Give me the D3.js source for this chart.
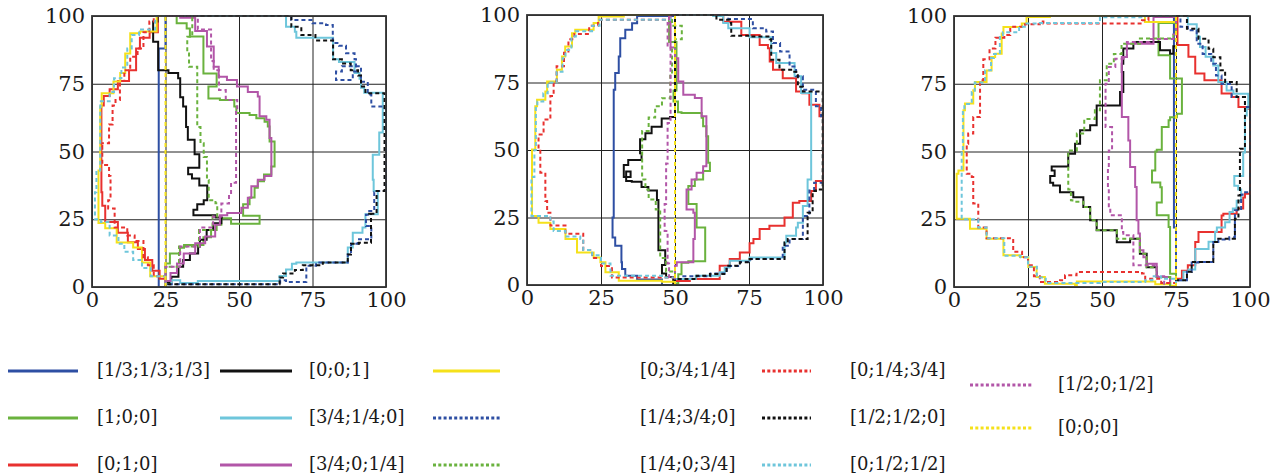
<!DOCTYPE html>
<html>
<head>
<meta charset="utf-8">
<script src="https://cdn.jsdelivr.net/npm/d3@7"></script>
<style>
  body { margin: 0; background: #fff; }
  svg { display: block; }
</style>
</head>
<body>
<script>
// legend labels, in legend order (column by column)
const seriesNames = ['[1/3;1/3;1/3]', '[1;0;0]', '[0;1;0]',
                     '[0;0;1]', '[3/4;1/4;0]', '[3/4;0;1/4]',
                     '[0;3/4;1/4]', '[1/4;3/4;0]', '[1/4;0;3/4]',
                     '[0;1/4;3/4]', '[1/2;1/2;0]', '[0;1/2;1/2]',
                     '[1/2;0;1/2]', '[0;0;0]']

const tickValues = [0, 25, 50, 75, 100]

// boundary traces, one list per series (same order as seriesNames)
const panelA = [
  [[25,0],[22.7,3],[22.7,88],[25,88],[25,100]],
  [[25,100],[28.8,100],[28.8,97.3],[32.2,95.4],[33.3,92.4],[37.9,89.9],[37.9,78.8],[42.4,78.2],[42.4,74],[39.6,74],[39.6,69.6],[43.5,69],[48.4,66.6],[49.1,64.2],[53.6,63.5],[55.9,62.3],[58.7,61],[59.8,59.2],[60.4,53.7],[62.1,44.5],[61,41.5],[58.5,39],[56.4,36.6],[55.3,33],[53.6,30.5],[51.4,26.3],[57,26],[57,23.3],[49.2,23.3],[47.3,25.4],[44,23],[42.4,21],[40.5,18.4],[37.9,15.5],[31.3,14.5],[29.9,12.4],[26.5,8.7],[25,7.6],[25,0]],
  [[25,100],[22.4,99.5],[22.4,94],[19.6,92],[16.3,88],[15,80],[12.6,76],[8.8,73],[6,70.5],[4,67],[3.2,35],[3.5,30],[4.5,24],[8.8,20],[12.2,16.5],[15.6,14],[18,10],[20.5,6],[23,3],[25,0]],
  [[25,100],[23,100],[22.3,98],[20.8,90.5],[22.5,80],[26,79],[29.3,77],[30,70],[31,66.6],[32,64],[32,59],[32.6,54.3],[34.9,53],[34.9,49],[36.5,47],[36.5,44],[32.7,41.6],[34,40],[36.5,37.5],[39.2,36.2],[39.2,32],[38,30.5],[35.8,28.5],[34.5,26.5],[42,25.6],[44.5,25.6],[44,23.5],[41.2,21],[39,17.4],[36.7,14.9],[36.1,12.4],[33.3,10],[31,7.5],[29.4,3.8],[27,1.5],[25,0]],
  [[25,100],[62.7,100],[66,97.5],[66,96],[69,94.2],[69.5,92],[80,92],[82,84],[84,83],[89.3,79],[91,76.8],[91.5,73.5],[92.6,71.7],[98.9,71],[98.9,57],[97.7,57],[97.7,48.8],[95.5,48.8],[95.5,39.6],[95.8,35.4],[97.2,35.4],[97.2,26.8],[94.3,26.8],[93,22],[92,20],[88.7,18],[88.7,14.6],[87,9],[69.5,8.6],[68,6.5],[66,4.1],[63.8,2.2],[36,1.5],[30,2.5],[27,1],[25,0]],
  [[25,100],[30,100],[30,99.4],[35.1,94.5],[39.1,88.7],[41.4,81.3],[43.1,77.6],[45.9,76.4],[49.3,74],[53,72],[56.4,70.3],[57,63],[59.3,61.7],[60.4,55],[61,41],[58.7,39.6],[56.4,37.2],[54.2,32.9],[53,29.2],[50.8,27.3],[46,26.5],[43.5,23],[41.9,18.6],[38.5,16.1],[35.1,12.4],[31.2,8.7],[28.9,5.2],[26.7,2.2],[25,0]],
  [[25,100],[22,99.8],[22,94.3],[16.3,93.6],[13,86.2],[11.3,79],[9.6,75.8],[7.3,71.5],[3.3,66.5],[2.8,43],[2.2,26],[2.2,23.6],[4.5,21.7],[8.4,16.4],[14,14.6],[17,11.5],[17,9],[19.8,4],[25,0]],
  [[25,100],[62,100],[67.8,98.5],[75,97.3],[79.6,96.7],[81.9,93.6],[81.9,90],[84,89],[86.4,86.3],[89.3,84],[89.8,79.5],[88.7,76.4],[84.2,76.4],[83,79.5],[85,81.5],[91.5,75.7],[93.8,71],[95,66.6],[98.9,66],[100,61.6],[100,35.4],[96.6,35],[96,28],[93.8,26.7],[93.2,22.5],[95,17.6],[90.4,16],[88.1,12],[87,9],[76.2,7.8],[72.9,5.4],[72.9,1.8],[66,2.5],[64,1],[25,0.5]],
  [[25,100],[31,100],[34.1,92.3],[32.4,86.2],[33,81.3],[35.8,78.8],[35.8,59],[36.9,53],[38,48],[39.1,39.5],[39.7,32],[42,30.9],[42.6,26],[41,21],[36.4,14.9],[29.6,7.5],[25,0]],
  [[25,100],[21,98],[19.5,94],[17.5,88],[15.5,85],[13,80],[11,76],[9.5,69],[8,67],[7,60],[5.8,53],[3,52],[3.5,45],[5.8,41],[6.3,32],[5.5,29],[7.7,25.5],[7.7,22],[12,19],[14.5,17],[17.5,15],[17.5,11],[19,8],[21,4],[25,0]],
  [[25,100],[64,100],[67.8,96],[71.2,93],[76,93],[76,91],[82,91],[82,84],[85,82.5],[88,80],[90.5,78],[91.5,74],[93,71.5],[99.5,70],[99.5,35.4],[96.8,35],[96.8,27],[93.8,27],[94.9,16.3],[90.8,16],[88.1,12],[87,9],[78.5,8],[71.7,6.3],[69,5],[65,3.5],[63.8,1],[25,0]],
  [[25,100],[21.5,99],[21.5,95],[16,93],[13.5,88],[12,81],[10,77],[7.5,72],[6,68.5],[3,67],[2.8,43],[1.5,35],[1,28],[1,25],[3,24],[6,19],[9,16],[11,13],[14,10],[17,7],[20,4],[25,0]],
  [[25,100],[33,100],[36,95],[40.5,83.4],[41.4,80],[43.2,72.7],[45.5,69],[49.4,65.4],[49,51],[49,38.5],[47.3,34],[46.6,30.8],[44,26],[41.2,22],[36.7,14.9],[30,7.5],[25,0]],
  [[25,0],[25,100]]
]

const panelB = [
  [[50,0],[45.6,2],[37.2,3.4],[33.2,5.9],[32.1,8.4],[31.9,14.5],[29.8,17.6],[28.9,25],[29.3,72.3],[29.8,78.5],[31,84.6],[31.5,91.4],[33.2,94.5],[35.5,96.9],[37.2,99.6],[50,100]],
  [[50,100],[49.5,100],[48,96],[48,90],[50.5,85],[50.5,72],[49.5,68],[51,64],[52.2,63.7],[59,61.9],[59.5,58.8],[60.6,55.1],[61.2,45.3],[61.8,42.2],[59.5,39.1],[56.7,36.7],[54.5,35.4],[54.5,30],[57.3,21.3],[60.2,20],[60.2,8.8],[54.5,8.2],[52.2,4],[51.1,0.6],[50,0]],
  [[50,100],[64.6,100],[66.3,97.5],[72.4,97.5],[72.4,92.6],[76,92.6],[78.6,88.9],[81.4,87.7],[82,82.8],[83.1,79.7],[86.4,76.6],[90.4,76.6],[90.9,71.7],[93,71],[95.4,66.8],[98.8,62.5],[100,61.9],[100,38.5],[97.6,34.8],[96,31.1],[92,30.5],[89.8,25],[87,21.9],[81.9,20.7],[78.6,17],[76.5,15.5],[75.2,12],[71.9,9.6],[68.5,7.1],[65.1,4.7],[65.1,2.2],[60.7,2.2],[55,1.5],[50,0]],
  [[50,100],[50,62.2],[48.3,61.7],[45.5,58.6],[42.1,56.2],[40,54],[38.2,52.5],[38.2,48.8],[38.7,46.3],[34.2,44.4],[32.7,43],[32.7,40],[35,40],[35,42],[33.5,42],[33.5,38.5],[35.4,38.2],[38.7,36.3],[41,35],[43.9,31.5],[44.4,26.5],[44.4,12.9],[46.7,11.7],[46.7,7.4],[45.6,4.3],[47,3],[49.4,0.6],[50,0]],
  [[50,100],[62.9,99.6],[66.3,97],[68,95.1],[71,95.1],[75.2,91.8],[82,91.8],[82.5,85.9],[84.2,82.2],[90.4,77.3],[92.6,71.1],[96,69.9],[96,39.1],[94.8,37],[94.8,29.3],[93.2,28],[93.2,23.1],[91.5,21.3],[90.9,18.2],[87.6,15.7],[87,10.2],[75.2,9],[68.5,6.5],[66.8,4.7],[65.1,3.4],[57,2.2],[50,0]],
  [[50,100],[48.5,97],[48.5,88],[50,84],[51.1,75.4],[52.8,70.5],[56.7,69.3],[59,62.5],[60.6,55.1],[60.6,44],[59.5,41.6],[57.3,39.1],[55.6,35.4],[53.9,33],[53.9,28],[56.2,26.8],[56.7,17],[56.2,8.4],[50.6,7.1],[50,0]],
  [[50,100],[32.7,100],[32.7,99.4],[24.2,97],[22.5,94.5],[16.3,93.2],[15.2,88.3],[12.9,84.6],[11.8,79.7],[10.1,75.4],[6.8,71.7],[6.2,68.6],[3.4,66.2],[2.8,50.2],[1.7,42],[1.7,25.6],[3.9,23.1],[7.9,20.7],[13,17],[16.9,15.7],[16.9,12],[22.5,10.2],[24.8,8.4],[26.5,4.7],[31,1.6],[45.6,1.2],[50,0]],
  [[50,100],[63,100],[68,98.5],[76.3,95.1],[80.8,93.9],[83.1,89.6],[85.5,86.5],[88.7,80.9],[90.9,77.3],[93.2,72.3],[97.6,66.2],[99.3,62.5],[100,37.9],[97,35],[95.4,25.6],[93.2,17],[88.7,14.5],[86.4,9.6],[75.5,8.5],[72,7],[67.5,4.3],[62,3.2],[52,2.2],[50,0]],
  [[50,100],[49,96],[52.3,91],[50,88],[49,78],[48.4,69.2],[45.6,66.2],[43.3,62],[41.1,57],[38.9,52.6],[38.9,39.1],[40,35.4],[41.1,31.7],[43.5,28],[45,25.6],[45,10],[47,5],[50,0]],
  [[50,100],[48,98.2],[29.8,98.2],[24,96],[21,93],[16,91],[14,86],[12.5,81],[10,75.5],[9,70],[7.9,61.3],[5.6,55.7],[3.9,50.2],[4.5,41.6],[6.2,31.1],[6.8,26.8],[7.9,22],[13,19],[19,17.2],[19,13],[22,10],[25,7],[28.7,2.8],[45,2.8],[50,0]],
  [[50,100],[62.9,100],[64,98.2],[68.5,97],[69,92.3],[75.2,92],[82,91],[82.5,83.4],[85.3,79.7],[89.8,79],[91.5,73.4],[93.2,71.7],[99.9,71],[99.9,35.4],[97.6,34.8],[96.5,26.8],[94.8,23.1],[94.8,17],[88.1,15.7],[87,9.6],[75.2,8.4],[71.9,7.1],[67.4,4.1],[61.8,3.4],[57.3,2.2],[51.7,2.2],[50,0]],
  [[50,100],[48.4,98.2],[35.5,98.2],[24.5,96],[22,94],[16.5,92],[15,87],[13,84],[12,79],[10,75],[7,71],[5.5,68],[3.5,66],[3,50],[2.5,40],[1.5,25.6],[7.9,23.5],[9,20],[13,18],[18,17],[19,13],[22,11],[25,8],[28.2,3.4],[37.7,3.4],[45.6,2.8],[50,0]],
  [[50,100],[48,97],[47.5,88],[48.5,80],[48.5,60],[47.5,45],[47,30],[46.5,20],[47.5,8],[48,3],[50,0]],
  [[50,0],[50,100]]
]

const panelC = [
  [[74.3,100],[74.3,22],[75,22],[75,0]],
  [[75,97.4],[69.1,97.4],[69.1,85.5],[73,83.7],[73,76.9],[77,75.6],[77,63.9],[75.3,62.6],[73,61.5],[72.5,59],[70.2,55],[70.2,50.6],[68.5,50],[68,43],[66.9,38.6],[69.7,36.8],[70.2,31.2],[68.5,26.5],[71.3,26.5],[72.5,22.1],[73,11.1],[73,4.9],[75,0]],
  [[75,100],[75.5,100],[75.5,89.3],[79.2,89.3],[79.2,85],[81.5,84.4],[81.5,78.8],[84.6,76.3],[88.8,76.3],[90.4,71.4],[93.8,70.1],[96.1,66.4],[98.9,65.8],[100,64],[100,34.4],[98.3,33],[97.7,29],[95.5,27],[91,26.4],[90.4,20.3],[82.6,19.7],[82.6,16.6],[81.5,16.6],[81.5,8],[79,6],[77,3],[75,0]],
  [[75,0],[73,3.7],[68.5,7.3],[65.1,12.3],[62.8,17.8],[59.5,17.8],[59.5,16.5],[57.5,16.5],[55,18.4],[55,20.9],[50.5,20.9],[48.2,24.6],[46,29.5],[43.7,33.1],[40.3,35],[35.8,37.5],[33.5,38.5],[32.5,41],[34,43],[33,44.5],[36,44.5],[38.6,44.5],[38.6,49.2],[40.9,52.9],[42.6,57.8],[46,59.7],[48.2,63.9],[48.2,67],[56.1,67],[56.1,72],[57.2,79.3],[56.7,82.4],[57.2,88],[60.6,90.4],[69.6,90.4],[69.6,87.4],[73,86.1],[74.1,88.8],[75,89]],
  [[75,100],[77.5,100],[79,97],[82,92.3],[83.1,88.6],[85,85],[87.6,81.7],[89.3,75.6],[92.1,72.5],[94.4,71.3],[99.4,70.7],[99.4,66],[98.9,63.3],[98.3,49.6],[97.7,41],[94.7,40.6],[94.7,37.4],[96,36],[97,31.8],[95.5,29],[94.2,27.7],[93.1,23.9],[91.6,22],[88.8,20.4],[88.2,16.7],[86,14],[81.5,9.3],[81.5,6.5],[79.2,5.6],[77.5,2.5],[75,0]],
  [[75,0],[73,3.7],[68.5,8.6],[65.1,11],[64,13.6],[62.8,19.7],[62.3,24.6],[61.7,36.9],[61.2,44.3],[59.5,54.1],[58.9,62.7],[56.7,68.9],[56.7,84.9],[58.4,89.8],[67.4,92.9],[67.4,99.6],[75,99.6]],
  [[75,97.8],[64.5,97.8],[64.5,100],[32.4,100],[32.4,99.6],[25.1,99.6],[24.5,97.2],[22.9,95.9],[16.7,93.5],[16.1,86.1],[13.9,84.9],[12.7,79.9],[11,75.6],[7.1,72.6],[6.5,67.7],[3.7,65.2],[3.2,43],[1.5,41.8],[0.9,25.2],[5.4,21.5],[11,17.8],[16.7,16.6],[16.7,11.7],[22.3,11.1],[25.1,7.4],[27.9,3.7],[30.7,1.2],[40.9,0.6],[41.5,2],[66.5,2],[68,1],[73,0.5],[75,0]],
  [[75,100],[76.5,100],[76.5,96],[79,94.7],[82,89.8],[84,86],[86.9,82.4],[88.5,78],[90.4,74.9],[93.8,70.1],[98.3,66.4],[100,65],[100,35],[97.5,34],[97,28.3],[94.9,26.4],[94.9,18.4],[93,17.5],[89.3,16.6],[87.6,9.2],[82.6,9],[80.3,5.6],[78.7,2.5],[75,0]],
  [[75,0],[73,3.7],[68.5,7.3],[65.1,12.3],[62.8,17.8],[55,20.9],[50.5,21],[48.2,24.6],[46,29.5],[43.7,31.5],[40,32],[39.5,36],[38.6,45],[38.6,50.4],[41.5,56.6],[44,62],[47.6,65.2],[49.3,76.3],[51.6,82.4],[54,86],[56.6,89.8],[62.8,91.7],[74.1,93],[75,100]],
  [[75,100],[65.7,100],[65.7,98.4],[63.5,97.2],[35.8,97.2],[30.2,98],[29,97],[24,96],[19,93],[17,92],[14,88],[12,84],[9.9,76.3],[8.8,70.1],[8.8,62.7],[6.5,56.6],[4.8,52.9],[4.3,41.8],[6,40.6],[6.5,30.8],[8.2,24.6],[8.2,22],[11,18],[20,17.2],[20,13],[23,11],[25,8],[27,4],[29,1.8],[35.8,2.5],[37.5,4.3],[41.4,5.5],[63.5,5],[64.6,3],[70,1.5],[75,0]],
  [[75,100],[76.5,100],[78.7,95.3],[82.6,91.6],[86,87.9],[87.6,84.8],[90,80],[91.6,75.6],[95.5,70.1],[98.3,66.4],[98.3,51],[97.2,51],[96.6,33.8],[96.1,25.2],[94.9,17.8],[89.3,16.6],[87.6,9.2],[82.6,9.2],[80.3,5.6],[78.7,2.5],[75,0]],
  [[75,100],[64.6,99.5],[49.3,97.4],[35.8,97.4],[29,97.2],[24.5,96],[22,94],[16.5,93],[15.5,86],[13.5,84.5],[12.5,80],[10.5,75.5],[7,72],[6,67.5],[3.5,65],[3,50],[2.6,30.8],[2.6,25],[8.2,24],[8.2,22],[11,18],[17,16.5],[17,11.5],[22.5,11],[25,7.5],[28,3.5],[31,1.5],[41,1.5],[49.3,1.8],[64.6,2.5],[67,4],[70,3],[75,0]],
  [[75,0],[71,4],[68.5,8],[60.6,19.1],[57.2,20.3],[56.7,26.5],[52.8,29],[52.3,36.4],[52,44],[52.3,50.4],[53.4,59],[51.2,64.5],[51.2,75],[52.3,81.2],[54.5,84.2],[58.4,90.4],[66,91.5],[74.1,93.2],[75,100]],
  [[75,0],[75,100]]
]

const colors = ['#2e4fa3', '#6ab23e', '#e8312f', '#111111', '#6ec6db', '#b256a8', '#f5e11a',
                '#2e4fa3', '#6ab23e', '#e8312f', '#111111', '#6ec6db', '#b256a8', '#f5e11a']
const isDotted = (i) => i >= 7

const svg = d3.select('body').append('svg')
  .attr('width', 1288)
  .attr('height', 475)

const boxes = [
  {data: panelA, left: 92, right: 386, top: 16, bottom: 287},
  {data: panelB, left: 527, right: 823, top: 15, bottom: 285},
  {data: panelC, left: 954, right: 1250, top: 16, bottom: 287}
]

const FONT = 'DejaVu Serif'

boxes.forEach(box => {
  const x = d3.scaleLinear().domain([0, 100]).range([box.left, box.right])
  const y = d3.scaleLinear().domain([0, 100]).range([box.bottom, box.top])
  const w = box.right - box.left
  const h = box.bottom - box.top

  const g = svg.append('g')

  // grid + labels
  const xAxis = g.append('g')
    .attr('transform', `translate(0,${box.bottom})`)
    .call(d3.axisBottom(x).tickValues(tickValues).tickSize(-h).tickPadding(5))
  const yAxis = g.append('g')
    .attr('transform', `translate(${box.left},0)`)
    .call(d3.axisLeft(y).tickValues(tickValues).tickSize(-w).tickPadding(7))

  ;[xAxis, yAxis].forEach(a => {
    a.select('.domain').remove()
    a.selectAll('line').attr('stroke', '#222').attr('stroke-width', 1)
    a.selectAll('text')
      .attr('fill', '#1a1a1a')
      .style('font-family', FONT)
      .style('font-size', '21px')
  })

  const line = d3.line()
    .x(d => x(d[0]))
    .y(d => y(d[1]))
    .curve(d3.curveStepAfter)

  g.selectAll('path.trace')
    .data(box.data)
    .enter()
    .append('path')
    .attr('class', 'trace')
    .attr('d', line)
    .attr('fill', 'none')
    .attr('stroke', (d, i) => colors[i])
    .attr('stroke-width', 2)
    .attr('stroke-dasharray', (d, i) => isDotted(i) ? '4,3' : null)

  g.append('rect')
    .attr('x', box.left)
    .attr('y', box.top)
    .attr('width', w)
    .attr('height', h)
    .attr('fill', 'none')
    .attr('stroke', '#333')
    .attr('stroke-width', 1.8)
})

// legend
const colLineX0 = [8, 220, 433, 762, 970]
const colLineX1 = [78, 292, 500, 811, 1032]
const colTextX = [97, 309, 640, 850, 1058]
const rowY = [371, 418, 465]
const lastColY = [385, 428]

const legend = svg.selectAll('g.legend-item')
  .data(seriesNames)
  .enter()
  .append('g')
  .attr('class', 'legend-item')
  .attr('transform', (d, i) => {
    const col = Math.floor(i / 3)
    const yy = col === 4 ? lastColY[i % 3] : rowY[i % 3]
    return `translate(0,${yy})`
  })

legend.append('line')
  .attr('x1', (d, i) => colLineX0[Math.floor(i / 3)])
  .attr('x2', (d, i) => colLineX1[Math.floor(i / 3)])
  .attr('stroke', (d, i) => colors[i])
  .attr('stroke-width', 3)
  .attr('stroke-dasharray', (d, i) => isDotted(i) ? '3,2.3' : null)

legend.append('text')
  .attr('x', (d, i) => colTextX[Math.floor(i / 3)])
  .attr('y', 5)
  .text(d => d)
  .attr('fill', '#1a1a1a')
  .style('font-family', FONT)
  .style('font-size', '18px')
</script>
</body>
</html>
